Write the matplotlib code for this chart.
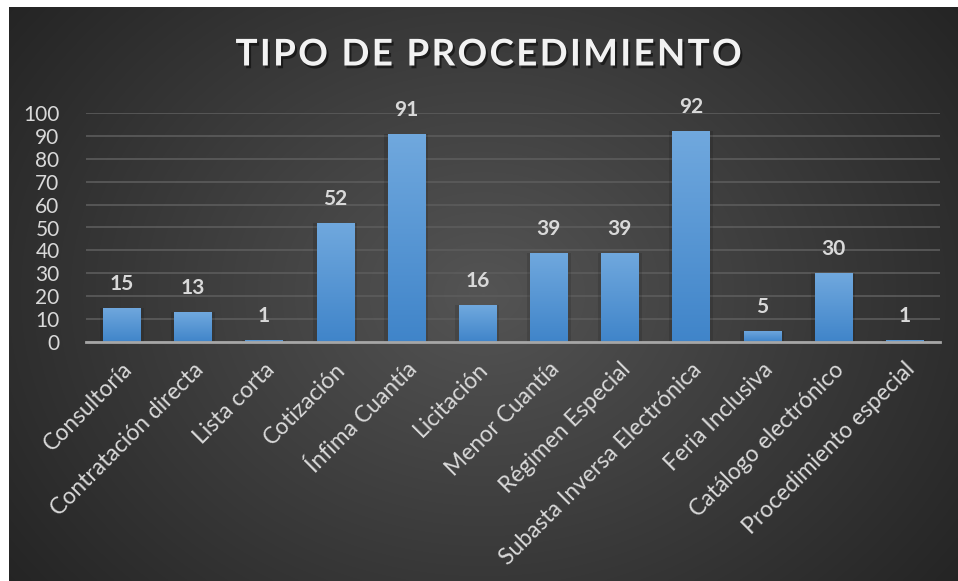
import numpy as np
import matplotlib.pyplot as plt
import matplotlib.patheffects as pe

categorias = ['Consultoría', 'Contratación directa', 'Lista corta', 'Cotización',
              'Ínfima Cuantía', 'Licitación', 'Menor Cuantía', 'Régimen Especial',
              'Subasta Inversa Electrónica', 'Feria Inclusiva',
              'Catálogo electrónico', 'Procedimiento especial']
valores = [15, 13, 1, 52, 91, 16, 39, 39, 92, 5, 30, 1]
yticks = list(range(0, 101, 10))

FONT = ['Lato', 'DejaVu Sans']
TXT = '#d9d9d9'

W, H = 958, 581
fig = plt.figure(figsize=(W / 100, H / 100), dpi=100, facecolor='white')

# dark radial background
bg = fig.add_axes([9 / W, 0, 1 - 9 / W, 1 - 7 / H])
bg.set_axis_off()
yy, xx = np.mgrid[0:1:300j, 0:1:500j]
r = np.sqrt(((xx - 0.5) * 1.0) ** 2 + ((yy - 0.5) * 0.75) ** 2)
r = np.clip(r / 0.62, 0, 1)
g = 0.33 - (0.33 - 0.145) * r
bg.imshow(np.dstack([g, g, g]), aspect='auto', extent=[0, 1, 0, 1],
          interpolation='bilinear')

ax = fig.add_axes([86 / W, 1 - 342 / H, (940 - 86) / W, (342 - 113) / H])
ax.patch.set_alpha(0)
x = np.arange(len(categorias))
bars = ax.bar(x, valores, width=0.52, color='#5b9bd5', zorder=3)

# vertical gradient inside each bar
grad = np.linspace(0, 1, 100).reshape(-1, 1)
top_c = np.array([0.44, 0.66, 0.87])
bot_c = np.array([0.25, 0.52, 0.79])
img = top_c * (1 - grad[..., None]) + bot_c * grad[..., None]
for b in bars:
    b.set_facecolor('none')
    b.set_edgecolor('none')
    x0, w, h = b.get_x(), b.get_width(), b.get_height()
    # soft shadow
    ax.bar(x0 + w / 2, h, width=w + 0.1, color='black', alpha=0.12, zorder=2)
    im = ax.imshow(img, extent=[x0, x0 + w, 0, h], aspect='auto', zorder=3,
                   interpolation='bilinear')
    im.set_clip_path(b)

for xi, v in zip(x, valores):
    ax.annotate(str(v), (xi, v), xytext=(0, 10), textcoords='offset points',
                ha='center', va='bottom', fontsize=15, fontweight='bold',
                color=TXT, family=FONT, annotation_clip=False)

ax.set_xlim(-0.5, len(categorias) - 0.5)
ax.set_ylim(0, 100)
ax.set_yticks(yticks)
ax.set_yticklabels([str(t) for t in yticks], fontsize=15, color=TXT, family=FONT)
ax.set_xticks(x)
ax.set_xticklabels(categorias, rotation=45, ha='right', va='top',
                   rotation_mode='anchor', fontsize=16.5, color=TXT, family=FONT)
ax.tick_params(axis='both', length=0)
ax.tick_params(axis='y', pad=19)
ax.tick_params(axis='x', pad=12)
ax.grid(axis='y', color='#5c5c5c', linewidth=1.2, zorder=0)
for s in ['top', 'right', 'left']:
    ax.spines[s].set_visible(False)
ax.spines['bottom'].set_color('#a6a6a6')
ax.spines['bottom'].set_linewidth(2)
ax.spines['bottom'].set_zorder(4)

titulo = '\u200a'.join('TIPO DE PROCEDIMIENTO')
fig.text(488 / W, 1 - 55 / H, titulo,
         ha='center', va='center', fontsize=26.5, fontweight='bold', color='#f2f2f2',
         family=FONT,
         path_effects=[pe.withSimplePatchShadow(offset=(1.5, -2), shadow_rgbFace='black', alpha=0.5)])

fig.savefig('out.png', dpi=100, facecolor='white')
